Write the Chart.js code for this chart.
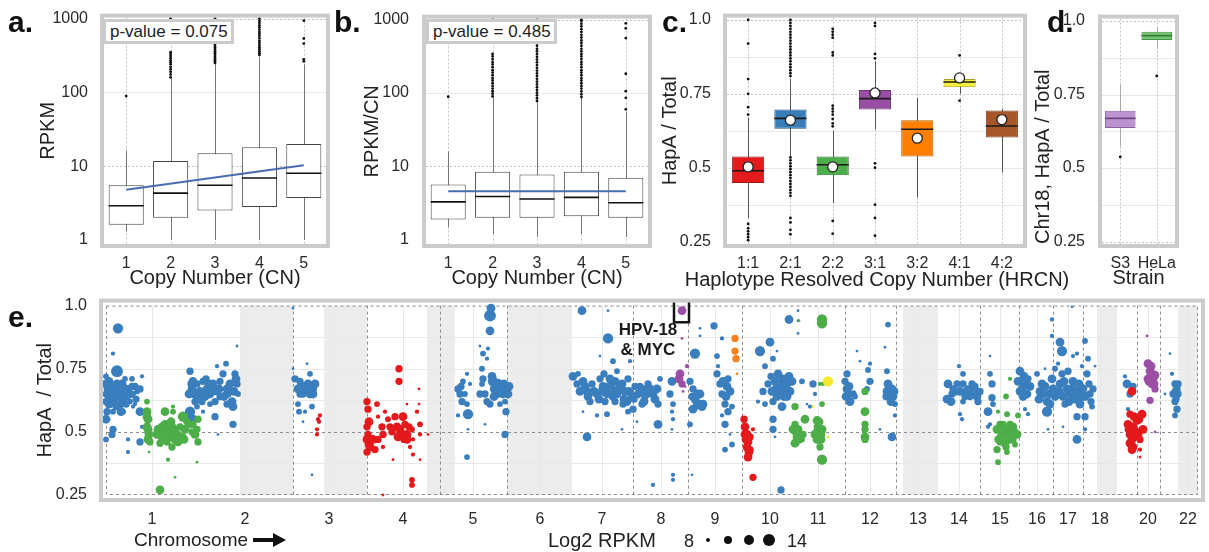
<!DOCTYPE html>
<html>
<head>
<meta charset="utf-8">
<script src="https://cdn.jsdelivr.net/npm/chart.js@4.4.1/dist/chart.umd.min.js"></script>
<style>
  body { margin: 0; width: 1209px; height: 552px; position: relative; overflow: hidden; background: #fff;
         font-family: "Liberation Sans", Arial, Helvetica, sans-serif; color: #222; }
  canvas { position: absolute; }
  .tag { position: absolute; font-weight: bold; font-size: 30px; line-height: 30px; color: #111; }
  .pval { position: absolute; box-sizing: border-box; height: 25px; border: 3px solid #cbcbcb; background: #fff;
          font-size: 17px; line-height: 19px; padding-left: 4px; white-space: nowrap; }
  .note { position: absolute; font-weight: bold; font-size: 17px; line-height: 20px; text-align: center; color: #1a1a1a; }
  .foot { position: absolute; font-size: 20px; line-height: 20px; white-space: nowrap; color: #222; }
  .dot { position: absolute; background: #111; border-radius: 50%; }
</style>
</head>
<body>
<canvas id="chartA" width="335" height="292" style="left:0;top:0"></canvas>
<canvas id="chartB" width="325" height="292" style="left:335px;top:0"></canvas>
<canvas id="chartC" width="440" height="292" style="left:650px;top:0"></canvas>
<canvas id="chartD" width="184" height="292" style="left:1025px;top:0"></canvas>
<canvas id="chartE" width="1209" height="267" style="left:0;top:285px"></canvas>

<div class="tag" style="left:8px;top:7px">a.</div>
<div class="tag" style="left:334px;top:7px">b.</div>
<div class="tag" style="left:662px;top:7px">c.</div>
<div class="tag" style="left:1047px;top:7px">d.</div>
<div class="tag" style="left:8px;top:302px">e.</div>

<div class="pval" style="left:103px;top:19px;width:131px">p-value = 0.075</div>
<div class="pval" style="left:426px;top:19px;width:131px">p-value = 0.485</div>

<div class="foot" style="left:677px;top:269px;width:400px;text-align:center">Haplotype Resolved Copy Number (HRCN)</div>

<div class="note" style="left:610px;top:320px;width:76px">HPV-18<br>&amp; MYC</div>

<div class="foot" style="left:134px;top:530px;font-size:19px">Chromosome</div>
<div style="position:absolute;left:253px;top:538px;width:22px;height:4px;background:#111"></div>
<div style="position:absolute;left:273px;top:533px;width:0;height:0;border-top:7px solid transparent;border-bottom:7px solid transparent;border-left:13px solid #111"></div>
<div class="foot" style="left:548px;top:530px">Log2 RPKM</div>
<div class="foot" style="left:684px;top:531px;font-size:18px">8</div>
<div class="dot" style="left:706px;top:538px;width:4px;height:4px"></div>
<div class="dot" style="left:724px;top:536px;width:8px;height:8px"></div>
<div class="dot" style="left:744px;top:535px;width:10px;height:10px"></div>
<div class="dot" style="left:763px;top:534px;width:12px;height:12px"></div>
<div class="foot" style="left:787px;top:531px;font-size:18px">14</div>

<script>
// ---------- panel a : RPKM by copy number ----------
const cnLabels = ['1', '2', '3', '4', '5'];
const aQ1 = [1.6, 2.0, 2.5, 2.8, 3.7];
const aMed = [2.9, 4.3, 5.5, 6.9, 8.0];
const aQ3 = [5.5, 11.7, 15, 18, 20];
const aLo = [1.3, 1.0, 1.0, 1.0, 1.0];
const aHi = [16, 155, 240, 300, 240];
const aOut = [
    [89],
    [160, 175, 190, 205, 220, 240, 255, 270, 290, 310, 330, 350, 980, 1000],
    [250, 265, 280, 300, 320, 340, 360, 385, 410, 440, 470, 500, 540, 580, 620, 660, 710, 760, 810, 870, 930, 1000],
    [320, 340, 360, 385, 410, 440, 470, 500, 540, 580, 620, 660, 710, 760, 810, 870, 930, 1000],
    [263, 280, 458, 537, 936]
];
const aFit = [4.8, 10.3];

// ---------- panel b : RPKM/CN ----------
const bQ1 = [1.9, 2.0, 2.0, 2.1, 2.0];
const bMed = [3.3, 3.9, 3.6, 3.8, 3.2];
const bQ3 = [5.7, 8.5, 7.8, 8.5, 7.0];
const bLo = [1.5, 1.2, 1.1, 1.2, 1.1];
const bHi = [16, 86, 75, 85, 55];
const bOut = [
    [89],
    [90, 98, 106, 115, 125, 136, 148, 160, 175, 190, 205, 225, 245, 265, 290, 315, 340, 980, 1000],
    [78, 85, 93, 101, 110, 120, 131, 143, 156, 170, 185, 202, 220, 240, 262, 285, 310, 340, 370, 400, 440, 480, 520, 570, 620, 680, 740, 810, 880, 960, 1000],
    [88, 96, 105, 115, 125, 136, 148, 160, 175, 190, 205, 225, 245, 265, 290, 315, 340, 370, 400, 440, 480, 520, 570, 620, 680, 740, 810, 880, 960, 1000],
    [60, 86, 106, 183, 560, 760, 890]
];
const bFit = [4.6, 4.6];
const logTicks = [1, 10, 100, 1000];
const logLabels = ['1', '10', '100', '1000'];

// ---------- panel c : haplotype resolved copy number ----------
const hrcnLabels = ['1:1', '2:1', '2:2', '3:1', '3:2', '4:1', '4:2'];
const cQ1 = [0.448, 0.632, 0.475, 0.697, 0.538, 0.772, 0.602];
const cMed = [0.49, 0.667, 0.51, 0.734, 0.63, 0.79, 0.641];
const cQ3 = [0.538, 0.697, 0.538, 0.763, 0.661, 0.80, 0.694];
const cLo = [0.33, 0.54, 0.38, 0.63, 0.40, 0.75, 0.484];
const cHi = [0.67, 0.80, 0.625, 0.86, 0.737, 0.80, 0.70];
const cMean = [0.503, 0.661, 0.503, 0.753, 0.60, 0.804, 0.663];
const cOut = [
    [1.0, 0.92, 0.80, 0.75, 0.705, 0.68, 0.31, 0.295, 0.285, 0.275, 0.265, 0.255],
    [1.0, 0.99, 0.98, 0.97, 0.96, 0.95, 0.94, 0.93, 0.92, 0.91, 0.90, 0.89, 0.88, 0.87, 0.86, 0.85, 0.84, 0.83, 0.82, 0.81,
     0.535, 0.525, 0.515, 0.505, 0.495, 0.485, 0.475, 0.465, 0.455, 0.445, 0.435, 0.425, 0.415, 0.405, 0.33, 0.315, 0.29, 0.275],
    [0.97, 0.96, 0.95, 0.94, 0.89, 0.88, 0.71, 0.70, 0.69, 0.68, 0.665, 0.65, 0.64, 0.32, 0.277],
    [0.99, 0.98, 0.885, 0.87, 0.515, 0.50, 0.375, 0.33, 0.27],
    [],
    [0.88, 0.727],
    []
];

// ---------- panel d : chr18 by strain ----------
const strainLabels = ['S3', 'HeLa'];
const dQ1 = [0.636, 0.935];
const dMed = [0.669, 0.95];
const dQ3 = [0.695, 0.963];
const dLo = [0.574, 0.905];
const dHi = [0.784, 0.978];
const dOut = [[0.538], [0.813]];
const fracTicks = [0.25, 0.5, 0.75, 1.0];
const fracLabels = ['0.25', '0.5', '0.75', '1.0'];

// ---------- panel e : genome-wide HapA/Total, [bin, HapA/Total, log2 RPKM] ----------
const chrTicks = [46, 139, 223, 297, 367, 434, 496, 555, 609, 664, 712, 764, 812, 853, 894, 931, 962, 994, 1042, 1082];
const chrLabels = ['1', '2', '3', '4', '5', '6', '7', '8', '9', '10', '11', '12', '13', '14', '15', '16', '17', '18', '20', '22'];
const chrBounds = [187, 261, 334, 401, 527, 582, 636, 739, 790, 874, 913, 947, 977, 1031, 1054];
const gapBands = [[134, 187], [218, 261], [321, 349], [401, 466], [797, 832], [991, 1011], [1072, 1092]];
const hpvBox = [568, 583, 0.934, 1.02];

const eBlue = [
    [12,0.91,13],[7,0.81,9],[11,0.74,14],[0,0.69,12],[2,0.67,12],[6,0.68,13],[9,0.66,13],[12,0.67,12],[16,0.69,12],[19,0.66,12],
    [22,0.67,11],[26,0.68,11],[1,0.65,12],[4,0.64,12],[9,0.64,13],[14,0.65,12],[17,0.63,12],[21,0.64,11],[27,0.65,10],[31,0.66,10],
    [34,0.67,11],[0,0.62,11],[7,0.62,12],[14,0.61,12],[24,0.62,10],[29,0.61,9],[19,0.71,10],[26,0.71,10],[0,0.72,10],[36,0.72,9],
    [1,0.58,11],[0,0.55,12],[7,0.58,10],[17,0.58,10],[27,0.60,9],[34,0.58,12],[7,0.51,11],[6,0.49,11],[0,0.47,10],[22,0.47,9],
    [22,0.42,9],[34,0.46,11],[36,0.52,9],
    [3,0.70,12],[5,0.66,12],[11,0.69,12],[13,0.63,12],[18,0.67,13],[24,0.65,12],[29,0.68,11],[3,0.61,12],[10,0.60,11],[20,0.61,11],
    [15,0.58,12],[30,0.63,11],
    [84,0.74,11],[87,0.70,12],[86,0.67,12],[83,0.65,12],[91,0.69,11],[94,0.66,12],[97,0.70,11],[101,0.67,12],[104,0.65,12],[107,0.69,12],
    [111,0.66,11],[109,0.62,11],[114,0.70,11],[117,0.73,11],[121,0.67,12],[122,0.65,11],[126,0.62,12],[129,0.73,11],[131,0.69,11],[132,0.65,10],
    [127,0.60,12],[121,0.61,11],[114,0.64,11],[104,0.61,10],[96,0.62,11],[89,0.62,11],[91,0.60,10],[84,0.58,13],[86,0.55,13],[111,0.76,9],
    [120,0.77,10],[131,0.84,8],[109,0.56,11],[127,0.53,11],[112,0.49,8],[97,0.58,9],
    [88,0.65,12],[93,0.63,12],[99,0.64,12],[103,0.69,12],[106,0.66,12],[113,0.67,12],[118,0.64,12],[124,0.69,12],[128,0.66,12],[130,0.71,12],
    [85,0.69,11],[100,0.71,11],
    [187,0.99,8],[187,0.75,8],[189,0.71,11],[192,0.67,12],[196,0.66,12],[199,0.68,12],[202,0.69,12],[206,0.67,13],[209,0.69,12],[204,0.73,10],
    [201,0.77,8],[194,0.65,11],[197,0.65,11],[204,0.65,12],[192,0.61,10],[193,0.58,10],[199,0.58,9],[197,0.54,8],[206,0.60,10],[206,0.33,8],
    [195,0.68,12],[200,0.66,12],[203,0.67,12],[207,0.65,12],[194,0.70,11],
    [352,0.67,11],[354,0.65,11],[356,0.62,11],[357,0.70,10],[361,0.73,9],[359,0.65,10],[361,0.61,10],[362,0.57,13],[352,0.565,9],[364,0.69,9],
    [361,0.40,10],[362,0.51,8],[374,0.84,8],[377,0.81,10],[381,0.79,9],[382,0.83,9],[384,0.90,12],[384,0.96,14],[385,0.99,12],[376,0.75,10],
    [377,0.71,11],[376,0.69,10],[374,0.65,11],[379,0.65,11],[381,0.62,11],[384,0.61,11],[387,0.70,13],[389,0.67,13],[391,0.65,12],[392,0.69,13],
    [396,0.67,12],[397,0.65,12],[401,0.67,12],[402,0.65,12],[399,0.62,10],[400,0.58,11],[394,0.61,10],[379,0.53,8],[399,0.49,11],[386,0.72,12],
    [388,0.64,12],[393,0.66,13],[398,0.69,12],[403,0.68,12],[355,0.68,11],
    [476,0.98,12],[502,0.98,8],[502,0.87,13],[494,0.80,8],[507,0.78,10],[467,0.72,12],[472,0.73,10],[477,0.70,12],[481,0.66,12],[482,0.64,12],
    [486,0.69,11],[491,0.65,12],[494,0.71,11],[497,0.68,12],[501,0.65,12],[499,0.62,11],[504,0.71,12],[506,0.67,12],[511,0.65,12],[516,0.69,12],
    [519,0.66,12],[522,0.71,11],[526,0.64,12],[529,0.68,11],[532,0.65,12],[536,0.61,11],[539,0.67,11],[542,0.65,11],[511,0.74,10],[524,0.78,9],
    [477,0.58,8],[481,0.48,12],[491,0.565,9],[501,0.57,10],[517,0.61,11],[527,0.59,11],[531,0.54,8],[516,0.51,8],[522,0.58,10],[471,0.69,11],
    [484,0.62,11],[507,0.64,12],[521,0.62,12],
    [474,0.66,12],[479,0.68,12],[488,0.66,12],[493,0.63,12],[496,0.66,12],[503,0.68,12],[509,0.70,12],[513,0.67,12],[518,0.63,12],[523,0.66,12],
    [528,0.63,11],[534,0.68,11],[498,0.73,11],[509,0.62,11],
    [536,0.66,12],[539,0.64,11],[542,0.69,11],[547,0.65,12],[551,0.67,12],[552,0.61,11],[554,0.71,10],[552,0.53,12],[566,0.70,12],[564,0.65,11],
    [567,0.61,10],[566,0.58,9],[567,0.55,9],[566,0.51,8],[567,0.33,9],[567,0.31,9],[547,0.29,9],[586,0.33,8],[589,0.81,13],[594,0.91,8],
    [594,0.88,8],[584,0.70,11],[587,0.67,11],[586,0.64,11],[587,0.59,12],[592,0.61,13],[596,0.60,12],[584,0.53,10],[608,0.92,11],[616,0.87,9],
    [611,0.80,10],[612,0.76,9],[611,0.73,11],[614,0.69,11],[617,0.70,12],[621,0.68,12],[624,0.66,12],[616,0.65,11],[619,0.61,11],[622,0.58,11],
    [626,0.60,10],[616,0.565,9],[619,0.53,11],[624,0.49,8],[619,0.43,10],[626,0.45,10],[594,0.65,12],[597,0.61,12],
    [538,0.62,12],[544,0.67,12],[549,0.63,12],[589,0.63,12],[591,0.65,12],[620,0.64,12],[622,0.71,11],
    [654,0.82,13],[664,0.855,12],[659,0.76,10],[667,0.79,10],[671,0.82,8],[662,0.69,11],[666,0.66,12],[669,0.70,12],[672,0.73,12],[674,0.67,12],
    [677,0.71,12],[681,0.69,12],[684,0.66,12],[686,0.70,12],[681,0.64,12],[674,0.65,12],[667,0.62,11],[676,0.60,12],[659,0.61,10],[652,0.62,9],
    [667,0.55,11],[667,0.51,11],[669,0.48,8],[675,0.27,11],[683,0.945,12],[692,0.94,8],[692,0.98,8],[692,0.89,8],[696,0.70,10],[707,0.69,11],
    [709,0.65,9],[704,0.60,9],[701,0.61,8],[657,0.66,11],
    [670,0.67,12],[676,0.69,12],[679,0.67,12],[683,0.72,12],[678,0.64,12],[671,0.64,12],[665,0.72,11],
    [741,0.73,11],[739,0.70,11],[741,0.67,12],[742,0.65,12],[744,0.62,12],[747,0.65,11],[749,0.64,10],[751,0.82,8],[754,0.78,8],[764,0.77,9],
    [762,0.745,10],[764,0.70,11],[761,0.67,10],[779,0.835,8],[782,0.925,10],[781,0.74,10],[782,0.69,12],[781,0.66,12],[784,0.65,12],[787,0.64,12],
    [786,0.67,12],[789,0.61,10],[789,0.565,9],[786,0.48,12],[774,0.51,8],
    [740,0.64,12],[743,0.68,12],[783,0.67,12],[785,0.62,12],[788,0.66,12],[780,0.64,11],
    [842,0.69,12],[841,0.63,12],[846,0.65,11],[847,0.67,11],[851,0.69,11],[854,0.66,12],[857,0.73,10],[857,0.69,11],[859,0.64,11],[862,0.67,11],
    [866,0.69,11],[867,0.66,12],[871,0.64,12],[874,0.66,11],[853,0.76,9],[854,0.57,9],[856,0.55,9],[857,0.62,10],[872,0.62,11],
    [845,0.62,12],[849,0.66,12],[860,0.66,11],[864,0.64,11],[869,0.68,11],
    [884,0.80,8],[884,0.73,10],[886,0.69,11],[886,0.635,11],[882,0.58,12],[884,0.53,9],[882,0.52,9],[887,0.61,10],
    [914,0.74,12],[912,0.70,12],[914,0.66,12],[919,0.69,12],[921,0.65,12],[922,0.71,11],[917,0.64,12],[919,0.59,9],[922,0.57,9],[931,0.73,10],
    [936,0.69,12],[934,0.66,12],[937,0.65,12],[941,0.62,12],[941,0.58,13],[944,0.61,12],[946,0.71,12],[947,0.67,12],[949,0.75,10],[951,0.65,12],
    [954,0.69,12],[956,0.73,11],[957,0.64,12],[959,0.61,11],[961,0.67,12],[962,0.74,11],[964,0.65,12],[967,0.70,12],[971,0.66,12],[974,0.61,12],
    [977,0.67,12],[979,0.64,12],[981,0.73,11],[984,0.65,11],[987,0.67,11],[986,0.60,10],[971,0.56,11],[979,0.56,11],[971,0.47,12],[946,0.945,9],
    [946,0.88,9],[954,0.855,12],[956,0.82,13],[967,0.80,9],[971,0.81,9],[979,0.86,10],[982,0.79,10],[976,0.76,9],[989,0.76,8],[966,0.995,8],
    [952,0.77,9],[942,0.51,8],[957,0.52,8],[979,0.51,9],[939,0.75,8],
    [916,0.67,12],[918,0.72,12],[924,0.68,12],[933,0.63,12],[939,0.68,12],[943,0.65,12],[949,0.64,12],[953,0.66,12],[958,0.70,12],[963,0.62,12],
    [966,0.67,12],[969,0.63,12],[973,0.69,12],[976,0.64,12],[983,0.69,11],[985,0.62,11],
    [1019,0.72,9],[1021,0.69,12],[1024,0.65,11],[1027,0.68,11],[1022,0.59,9],
    [1064,0.81,8],[1066,0.73,9],[1069,0.69,11],[1071,0.67,11],[1072,0.65,11],[1069,0.62,11],[1071,0.59,11],[1069,0.565,10],[1067,0.65,11],[1059,0.65,8],
    [1070,0.63,11],[1070,0.66,12],[1072,0.69,11]
];
const eGreen = [
    [41,0.62,10],[41,0.56,12],[42,0.55,12],[41,0.52,12],[43,0.49,12],[42,0.47,12],[44,0.46,11],[43,0.42,8],[52,0.51,12],[56,0.52,12],
    [59,0.53,12],[56,0.48,12],[59,0.49,12],[62,0.51,12],[66,0.52,12],[64,0.48,12],[61,0.46,11],[66,0.44,11],[69,0.47,12],[71,0.49,12],
    [74,0.52,11],[76,0.48,12],[77,0.56,13],[79,0.51,12],[84,0.53,11],[87,0.53,11],[89,0.49,12],[92,0.55,11],[91,0.51,11],[92,0.46,11],
    [67,0.60,9],[59,0.58,12],[67,0.58,10],[62,0.39,9],[69,0.32,8],[54,0.27,12],[91,0.38,8],[51,0.49,12],[54,0.455,11],
    [53,0.49,12],[57,0.50,12],[60,0.47,12],[63,0.50,12],[65,0.54,12],[68,0.51,12],[72,0.46,12],[78,0.47,12],[81,0.54,11],[86,0.50,11],
    [42,0.51,12],[41,0.58,12],
    [689,0.60,11],[689,0.53,11],[687,0.51,12],[691,0.48,12],[689,0.455,12],[692,0.51,12],[697,0.49,11],[699,0.55,12],[696,0.47,10],[711,0.545,12],
    [712,0.52,12],[714,0.49,13],[711,0.47,12],[716,0.51,12],[714,0.44,11],[716,0.61,10],[716,0.39,13],[716,0.945,13],[716,0.93,13],[717,0.69,9],
    [714,0.69,9],[693,0.94,8],
    [690,0.50,12],[693,0.47,12],[712,0.50,13],[715,0.47,12],[713,0.54,12],[709,0.49,12],
    [759,0.66,11],[759,0.58,12],[759,0.53,11],[759,0.51,11],[759,0.48,12],[759,0.47,11],
    [904,0.71,9],[900,0.64,10],[892,0.58,9],[901,0.57,10],[894,0.53,11],[891,0.51,12],[896,0.50,12],[901,0.49,12],[907,0.52,12],[911,0.49,12],
    [904,0.47,12],[899,0.455,12],[891,0.43,11],[892,0.38,10],[907,0.47,11],[912,0.565,10],[897,0.53,11],[904,0.53,11],[892,0.47,11],[909,0.45,10],
    [901,0.42,10],
    [895,0.48,12],[898,0.51,12],[903,0.51,12],[906,0.49,12],[900,0.44,11],[894,0.46,11],[909,0.50,11]
];
const eRed = [
    [212,0.55,9],[214,0.565,9],[213,0.54,9],[211,0.51,9],[211,0.49,9],
    [261,0.62,11],[262,0.59,11],[261,0.52,11],[262,0.49,11],[261,0.47,12],[264,0.44,12],[261,0.42,11],[271,0.61,10],[272,0.56,9],[267,0.47,12],
    [269,0.43,11],[276,0.52,11],[277,0.49,11],[277,0.44,9],[282,0.55,10],[284,0.52,11],[289,0.56,11],[291,0.52,12],[292,0.48,12],[294,0.51,12],
    [297,0.56,12],[299,0.53,11],[301,0.49,12],[301,0.47,12],[304,0.44,9],[306,0.51,10],[307,0.47,9],[314,0.53,10],[314,0.49,9],[313,0.61,8],
    [313,0.67,8],[301,0.61,8],[293,0.75,11],[293,0.70,11],[307,0.41,9],[314,0.39,8],[287,0.39,8],[306,0.31,10],[306,0.29,10],[322,0.49,8],
    [277,0.25,8],[272,0.47,11],[279,0.58,9],[311,0.58,9],
    [263,0.54,12],[263,0.45,12],[286,0.50,11],[296,0.49,12],[298,0.47,11],[303,0.52,11],
    [638,0.55,11],[639,0.52,12],[641,0.49,12],[640,0.47,12],[642,0.46,12],[644,0.48,11],[641,0.44,12],[643,0.42,12],[642,0.40,12],[647,0.32,11],
    [647,0.51,9],[639,0.49,12],[644,0.43,11],
    [1026,0.66,12],[1024,0.57,11],[1022,0.53,12],[1024,0.49,12],[1026,0.47,12],[1027,0.44,12],[1032,0.49,12],[1034,0.47,11],[1036,0.57,12],[1037,0.51,12],
    [1034,0.43,9],[1034,0.40,8],[1027,0.52,12],[1031,0.545,12],[1024,0.455,12],
    [1023,0.51,12],[1025,0.45,12],[1028,0.48,12],[1030,0.50,12],[1033,0.55,12],[1028,0.56,12],[1026,0.43,12]
];
const ePurple = [
    [576,0.98,12],[576,0.87,8],[574,0.73,12],[573,0.71,12],[576,0.69,11],[581,0.76,9],[577,0.66,8],[579,0.68,8],
    [1041,0.88,8],[1042,0.77,12],[1044,0.74,12],[1047,0.71,12],[1049,0.725,12],[1046,0.69,12],[1049,0.67,11],[1044,0.625,11],[1049,0.50,8],[1042,0.71,12],
    [1045,0.76,12],[1048,0.69,12],[1046,0.73,12],[1043,0.70,12]
];
const eOrange = [[629,0.87,11],[629,0.82,11],[630,0.79,11],[631,0.73,8]];
const eYellow = [[722,0.70,13],[722,0.48,8],[707,0.60,8]];

Chart.defaults.font.family = '"Liberation Sans", Arial, Helvetica, sans-serif';
Chart.defaults.color = '#2a2a2a';
Chart.defaults.animation = false;
Chart.defaults.plugins.legend.display = false;
Chart.defaults.plugins.tooltip.enabled = false;

// grid, whiskers, medians and the grey frame, drawn through the chart scales
function panelPlugin(o) {
    return {
        id: 'panel',
        beforeDatasetsDraw(chart) {
            const ctx = chart.ctx, ca = chart.chartArea;
            const x = chart.scales.x, y = chart.scales.y;
            const hline = v => {
                const py = Math.round(y.getPixelForValue(v)) + 0.5;
                ctx.beginPath(); ctx.moveTo(ca.left, py); ctx.lineTo(ca.right, py); ctx.stroke();
            };
            const vline = v => {
                const px = Math.round(x.getPixelForValue(v)) + 0.5;
                ctx.beginPath(); ctx.moveTo(px, ca.top); ctx.lineTo(px, ca.bottom); ctx.stroke();
            };
            ctx.save();
            ctx.lineWidth = 1;
            (o.bands || []).forEach(b => {
                const l = x.getPixelForValue(b[0]), r = x.getPixelForValue(b[1]);
                ctx.fillStyle = '#ececec';
                ctx.fillRect(l, ca.top, r - l, ca.height);
            });
            ctx.strokeStyle = '#e8e8e8';
            (o.minorY || []).forEach(hline);
            (o.minorX || []).forEach(vline);
            ctx.strokeStyle = o.dashColor || '#c2c2c2';
            ctx.setLineDash(o.dash || [2, 2]);
            (o.majorY || []).forEach(hline);
            (o.majorX || []).forEach(vline);
            if (o.dashBorder) ctx.strokeRect(ca.left + 0.5, ca.top + 0.5, ca.width - 1, ca.height - 1);
            ctx.setLineDash([]);
            if (o.lo) {
                ctx.strokeStyle = o.whisker || '#777';
                o.lo.forEach((lo, i) => {
                    const px = Math.round(x.getPixelForValue(i)) + 0.5;
                    ctx.beginPath();
                    ctx.moveTo(px, y.getPixelForValue(lo));
                    ctx.lineTo(px, y.getPixelForValue(o.hi[i]));
                    ctx.stroke();
                });
            }
            ctx.restore();
        },
        afterDatasetDraw(chart, args) {
            if (!o.med || args.meta.type !== 'bar') return;
            const ctx = chart.ctx, y = chart.scales.y;
            ctx.save();
            ctx.lineWidth = o.medWidth || 1.6;
            args.meta.data.forEach((bar, i) => {
                const py = y.getPixelForValue(o.med[i]);
                ctx.strokeStyle = Array.isArray(o.medColor) ? o.medColor[i] : (o.medColor || '#111');
                ctx.beginPath();
                ctx.moveTo(bar.x - bar.width / 2, py);
                ctx.lineTo(bar.x + bar.width / 2, py);
                ctx.stroke();
            });
            ctx.restore();
        },
        afterDatasetsDraw(chart) {
            if (!o.box) return;
            const ctx = chart.ctx, x = chart.scales.x, y = chart.scales.y;
            const l = x.getPixelForValue(o.box[0]), r = x.getPixelForValue(o.box[1]);
            const b = y.getPixelForValue(o.box[2]), t = y.getPixelForValue(o.box[3]);
            ctx.save();
            ctx.strokeStyle = '#151515';
            ctx.lineWidth = 2.5;
            ctx.strokeRect(l, t, r - l, b - t);
            ctx.restore();
        },
        afterDraw(chart) {
            const ctx = chart.ctx, ca = chart.chartArea;
            const g = o.frameGap || 2;
            ctx.save();
            ctx.strokeStyle = '#cbcbcb';
            ctx.lineWidth = 4;
            ctx.strokeRect(ca.left - g, ca.top - g, ca.width + 2 * g, ca.height + 2 * g);
            ctx.restore();
        }
    };
}

function outlierPoints(labels, out) {
    const pts = [];
    out.forEach((list, i) => list.forEach(v => pts.push({x: labels[i], y: v})));
    return pts;
}

function boxPanel(id, p) {
    const datasets = [{
        type: 'bar',
        data: p.q1.map((q, i) => [q, p.q3[i]]),
        backgroundColor: p.fill,
        borderColor: p.edge,
        borderWidth: 1,
        borderSkipped: false,
        barPercentage: p.barPct,
        categoryPercentage: 1,
        order: 3
    }, {
        type: 'scatter',
        data: outlierPoints(p.labels, p.out),
        pointRadius: 1.4,
        pointBackgroundColor: '#111',
        pointBorderWidth: 0,
        clip: 6,
        order: 2
    }];
    if (p.fit) {
        const last = p.labels.length - 1;
        datasets.push({
            type: 'line',
            data: p.labels.map((l, i) => i === 0 ? p.fit[0] : (i === last ? p.fit[1] : null)),
            spanGaps: true,
            borderColor: '#4a6cb0',
            borderWidth: 2,
            pointRadius: 0,
            order: 1
        });
    }
    if (p.mean) {
        datasets.push({
            type: 'scatter',
            data: p.mean.map((m, i) => ({x: p.labels[i], y: m})),
            pointRadius: 5,
            pointBackgroundColor: '#fff',
            pointBorderColor: '#222',
            pointBorderWidth: 1.3,
            order: 0
        });
    }
    return new Chart(document.getElementById(id), {
        type: 'bar',
        data: {labels: p.labels, datasets: datasets},
        options: {
            responsive: false,
            layout: {padding: {top: 16, right: p.padRight, left: 0, bottom: 0}},
            scales: {
                x: {
                    offset: true,
                    grid: {display: false},
                    border: {display: false},
                    ticks: {font: {size: 16}, padding: 2, color: '#2a2a2a', autoSkip: false, maxRotation: 0, minRotation: 0},
                    title: {display: !!p.xTitle, text: p.xTitle, font: {size: 20}, padding: {top: 0, bottom: 2}, color: '#222'},
                    afterFit: s => { s.height = 48; }
                },
                y: {
                    type: p.log ? 'logarithmic' : 'linear',
                    min: p.yMin,
                    max: p.yMax,
                    grid: {display: false},
                    border: {display: false},
                    afterBuildTicks: s => { s.ticks = p.yTicks.map(v => ({value: v})); },
                    afterFit: s => { s.width = p.yWidth; },
                    ticks: {font: {size: 16}, padding: p.tickPad, color: '#2a2a2a', callback: (v, i) => p.yLabels[i]},
                    title: {display: true, text: p.yTitle, font: {size: 20}, padding: {top: p.titlePad},
                            align: p.titleAlign || 'center', color: '#222'}
                }
            }
        },
        plugins: [panelPlugin({
            lo: p.lo, hi: p.hi, med: p.med, medColor: p.medColor, whisker: p.whisker,
            majorY: p.majorY, minorY: p.minorY, majorX: p.labels.map((l, i) => i)
        })]
    });
}

boxPanel('chartA', {
    labels: cnLabels, q1: aQ1, q3: aQ3, med: aMed, lo: aLo, hi: aHi, out: aOut, fit: aFit,
    fill: '#ffffff', edge: '#444', barPct: 0.79, medColor: '#111', whisker: '#777',
    log: true, yMin: 0.88, yMax: 1031, yTicks: logTicks, yLabels: logLabels,
    majorY: [10, 1000], minorY: [100],
    yWidth: 104, tickPad: 8, titlePad: 36, padRight: 9,
    xTitle: 'Copy Number (CN)', yTitle: 'RPKM'
});

boxPanel('chartB', {
    labels: cnLabels, q1: bQ1, q3: bQ3, med: bMed, lo: bLo, hi: bHi, out: bOut, fit: bFit,
    fill: '#ffffff', edge: '#444', barPct: 0.79, medColor: '#111', whisker: '#777',
    log: true, yMin: 0.88, yMax: 1031, yTicks: logTicks, yLabels: logLabels,
    majorY: [10, 1000], minorY: [100],
    yWidth: 91, tickPad: 9, titlePad: 25, padRight: 12,
    xTitle: 'Copy Number (CN)', yTitle: 'RPKM/CN'
});

// x title of panel c is wider than its axis, so it is set as page text above
boxPanel('chartC', {
    labels: hrcnLabels, q1: cQ1, q3: cQ3, med: cMed, lo: cLo, hi: cHi, out: cOut, mean: cMean,
    fill: ['#e41a1c', '#377eb8', '#4daf4a', '#984ea3', '#ff7f00', '#f7ef3a', '#a65628'],
    edge: ['#9e1214', '#25577f', '#2f7a2d', '#6a3472', '#b35900', '#a8a326', '#743c1c'],
    barPct: 0.76, medColor: '#1a1a1a', whisker: '#555',
    log: false, yMin: 0.242, yMax: 1.008, yTicks: fracTicks, yLabels: fracLabels,
    majorY: [0.75, 1.0], minorY: [0.375, 0.5, 0.625, 0.875],
    yWidth: 77, tickPad: 8, titlePad: 8, padRight: 67,
    xTitle: '', yTitle: 'HapA / Total'
});

boxPanel('chartD', {
    labels: strainLabels, q1: dQ1, q3: dQ3, med: dMed, lo: dLo, hi: dHi, out: dOut,
    fill: ['#bb93ce', '#77c476'], edge: ['#8e60a4', '#3f9a3e'],
    barPct: 0.84, medColor: ['#6d3f83', '#2f7a2d'], whisker: '#aaa',
    log: false, yMin: 0.242, yMax: 1.008, yTicks: fracTicks, yLabels: fracLabels,
    majorY: [0.25, 1.0], minorY: [0.375, 0.5, 0.625, 0.75, 0.875],
    yWidth: 77, tickPad: 9, titlePad: 6, titleAlign: 'start', padRight: 34,
    xTitle: 'Strain', yTitle: 'Chr18, HapA / Total'
});

// ---------- panel e ----------
function bubbleSet(rows, color, order) {
    return {
        data: rows.map(r => ({x: r[0], y: r[1], s: r[2]})),
        pointRadius: ctx => 1.4 + (ctx.raw.s - 8) * 0.75,
        pointBackgroundColor: color,
        pointBorderWidth: 0,
        clip: 8,
        order: order
    };
}

new Chart(document.getElementById('chartE'), {
    type: 'scatter',
    data: {
        datasets: [
            bubbleSet(eBlue, '#3a7ebd', 5),
            bubbleSet(eGreen, '#4cad49', 4),
            bubbleSet(eRed, '#e3191c', 3),
            bubbleSet(ePurple, '#9a4fa5', 2),
            bubbleSet(eOrange, '#f58220', 1),
            bubbleSet(eYellow, '#f3ea30', 0)
        ]
    },
    options: {
        responsive: false,
        layout: {padding: {top: 16, right: 11, left: 0, bottom: 0}},
        scales: {
            x: {
                type: 'linear', min: 0, max: 1092,
                grid: {display: false}, border: {display: false},
                afterBuildTicks: s => { s.ticks = chrTicks.map(v => ({value: v})); },
                afterFit: s => { s.height = 57; },
                ticks: {font: {size: 16}, padding: 7, autoSkip: false, maxRotation: 0, color: '#2a2a2a',
                        callback: (v, i) => chrLabels[i]}
            },
            y: {
                type: 'linear', min: 0.25, max: 1.0,
                grid: {display: false}, border: {display: false},
                afterBuildTicks: s => { s.ticks = fracTicks.map(v => ({value: v})); },
                afterFit: s => { s.width = 106; },
                ticks: {font: {size: 16}, padding: 11, color: '#2a2a2a', callback: (v, i) => fracLabels[i]},
                title: {display: true, text: 'HapA  / Total', font: {size: 20}, padding: {top: 33}, color: '#222'}
            }
        }
    },
    plugins: [panelPlugin({
        bands: gapBands, minorX: chrTicks, minorY: [0.375, 0.625, 0.75, 0.875],
        majorX: chrBounds, majorY: [0.5], dash: [3, 3], dashColor: '#8c8c8c', dashBorder: true,
        box: hpvBox, frameGap: 5
    })]
});
</script>
</body>
</html>
